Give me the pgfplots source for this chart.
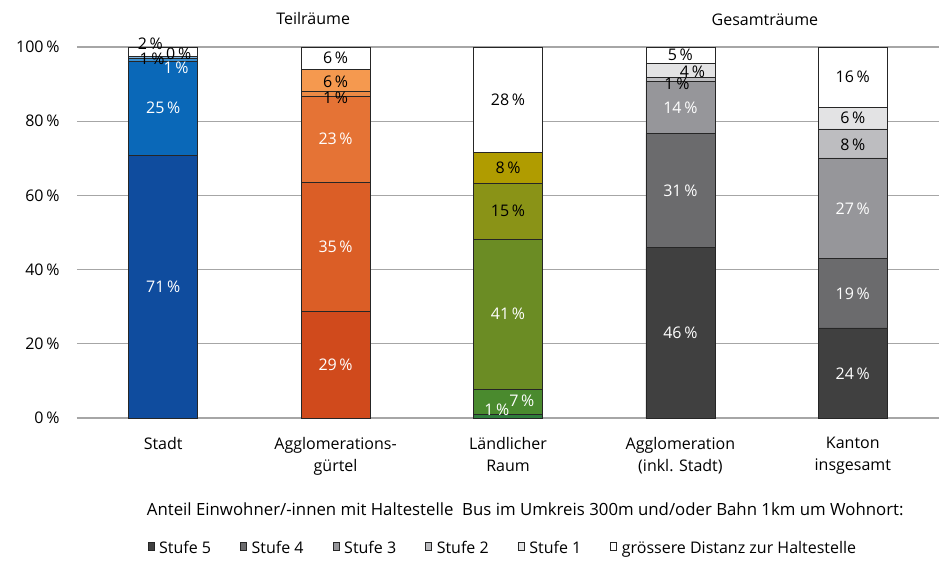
\documentclass[border=0pt]{standalone}
\usepackage{fontspec}
\setmainfont{Open Sans}
\usepackage{pgfplots}
\pgfplotsset{compat=1.18}

% Farben
\definecolor{b5}{HTML}{0F4C9E}
\definecolor{b4}{HTML}{0A68B8}
\definecolor{b3}{HTML}{3A8FD0}
\definecolor{b2}{HTML}{7FB4DF}
\definecolor{b1}{HTML}{C4DCF0}
\definecolor{o5}{HTML}{D04A1C}
\definecolor{o4}{HTML}{DB5E26}
\definecolor{o3}{HTML}{E57335}
\definecolor{o2}{HTML}{EC8A45}
\definecolor{o1}{HTML}{F5994F}
\definecolor{g5}{HTML}{2E7D3C}
\definecolor{g4}{HTML}{4A8A2E}
\definecolor{g3}{HTML}{6B8C24}
\definecolor{g2}{HTML}{8A9317}
\definecolor{g1}{HTML}{B09C00}
\definecolor{k5}{HTML}{404040}
\definecolor{k4}{HTML}{6B6B6D}
\definecolor{k3}{HTML}{96969A}
\definecolor{k2}{HTML}{BDBDC0}
\definecolor{k1}{HTML}{E3E3E4}
\definecolor{gridc}{HTML}{A6A6A6}

\newcommand{\fs}{\fontsize{16}{19}\selectfont}

\pgfplotsset{
    base/.style={scale only axis, width=862pt, height=371pt,
        xmin=-0.5, xmax=4.5, ymin=0, ymax=100, clip=false},
    bars/.style={ybar stacked, bar width=0.4,
        every axis plot/.append style={draw=black!85, line width=0.6pt}},
    ybar legend/.style={legend image code/.code={%
        \draw[##1, draw=black!85, line width=0.6pt] (0pt,-4pt) rectangle (8pt,4pt);}},
    lab/.style={draw=none, nodes near coords={\pgfplotspointmeta\,\%},
        point meta=explicit symbolic, nodes near coords align=center,
        every node near coord/.append style={anchor=center, font=\fs, inner sep=0pt}},
}

\begin{document}
\begin{tikzpicture}[font=\fs]
\path[use as bounding box] (-77pt,-144pt) rectangle (862pt,418pt);

% Hauptachse mit Gesamträumen (grau) und Legende
\begin{axis}[base, bars,
    axis x line*=bottom, axis y line*=left,
    y axis line style={draw=none},
    x axis line style={draw=gridc, line width=1.2pt},
    ytick={0,20,40,60,80,100},
    yticklabels={0\,\%,20\,\%,40\,\%,60\,\%,80\,\%,100\,\%},
    yticklabel style={xshift=-14pt, font=\fs},
    ytick style={draw=none},
    ymajorgrids, grid style={draw=gridc, line width=1.2pt},
    xtick={0,1,2,3,4},
    xticklabels={Stadt, {Agglomerations-\\gürtel}, {Ländlicher\\Raum},
        {Agglomeration\\(inkl. Stadt)}, {Kanton\\insgesamt}},
    xticklabel style={align=center, yshift=-16pt, font=\fontsize{16}{22}\selectfont},
    xtick style={draw=none},
    extra x ticks={-0.5,0.5,1.5,2.5,3.5,4.5},
    extra x tick labels={},
    extra x tick style={tick style={draw=gridc, line width=1.2pt},
        major tick length=5pt, tick align=outside},
    legend columns=-1,
    legend style={at={(0.494,-0.35)}, anchor=center, draw=none, font=\fs,
        /tikz/every odd column/.append style={column sep=3pt},
        /tikz/every even column/.append style={column sep=27pt}},
]
\addplot[fill=k5] coordinates {(3,45.9) (4,24.3)};
\addplot[fill=k4] coordinates {(3,30.8) (4,18.8)};
\addplot[fill=k3] coordinates {(3,14.1) (4,27.0)};
\addplot[fill=k2] coordinates {(3,0.9) (4,7.8)};
\addplot[fill=k1] coordinates {(3,3.8) (4,5.9)};
\addplot[fill=white] coordinates {(3,4.5) (4,16.2)};
\legend{Stufe 5, Stufe 4, Stufe 3, Stufe 2, Stufe 1, grössere Distanz zur Haltestelle}

\node at (axis description cs:0.274,1.078) {Teilräume};
\node at (axis description cs:0.798,1.073) {Gesamträume};
\node[font=\fontsize{16.8}{20}\selectfont] at (axis description cs:0.52,-0.245)
    {Anteil Einwohner/-innen mit Haltestelle\ \ Bus im Umkreis 300m und/oder Bahn 1km um Wohnort:};
\end{axis}

% Stadt
\begin{axis}[base, bars, hide axis]
\addplot[fill=b5] coordinates {(0,70.9)};
\addplot[fill=b4] coordinates {(0,25.3)};
\addplot[fill=b3] coordinates {(0,0.7)};
\addplot[fill=b2] coordinates {(0,0.7)};
\addplot[fill=b1] coordinates {(0,0)};
\addplot[fill=white] coordinates {(0,2.4)};
\end{axis}

% Agglomerationsgürtel
\begin{axis}[base, bars, hide axis]
\addplot[fill=o5] coordinates {(1,28.8)};
\addplot[fill=o4] coordinates {(1,34.8)};
\addplot[fill=o3] coordinates {(1,23.2)};
\addplot[fill=o2] coordinates {(1,1.2)};
\addplot[fill=o1] coordinates {(1,6.0)};
\addplot[fill=white] coordinates {(1,6.0)};
\end{axis}

% Ländlicher Raum
\begin{axis}[base, bars, hide axis]
\addplot[fill=g5] coordinates {(2,0.9)};
\addplot[fill=g4] coordinates {(2,6.8)};
\addplot[fill=g3] coordinates {(2,40.6)};
\addplot[fill=g2] coordinates {(2,15.0)};
\addplot[fill=g1] coordinates {(2,8.2)};
\addplot[fill=white] coordinates {(2,28.5)};
\end{axis}

% Beschriftungen
\begin{axis}[base, hide axis]
\addplot[lab, every node near coord/.append style={text=white}] table[meta=l] {
x y l
0 35.5 71
0 83.5 25
0.075 94.5 1
1 14.4 29
1 46.2 35
1 75.2 23
1.935 2.2 1
2.08 4.6 7
2 28.0 41
3 23.0 46
3 61.3 31
3 83.5 14
4 12.0 24
4 33.5 19
4 56.5 27
};
\addplot[lab, every node near coord/.append style={text=black}] table[meta=l] {
x y l
-0.065 96.7 1
0.09 98.3 0
-0.075 100.8 2
1 86.2 1
1 90.6 6
1 97.2 6
2 55.8 15
2 67.4 8
2 85.7 28
2.98 90.2 1
3.07 93.3 4
3 97.8 5
4 73.7 8
4 80.8 6
4 92.0 16
};
\end{axis}
\end{tikzpicture}
\end{document}
